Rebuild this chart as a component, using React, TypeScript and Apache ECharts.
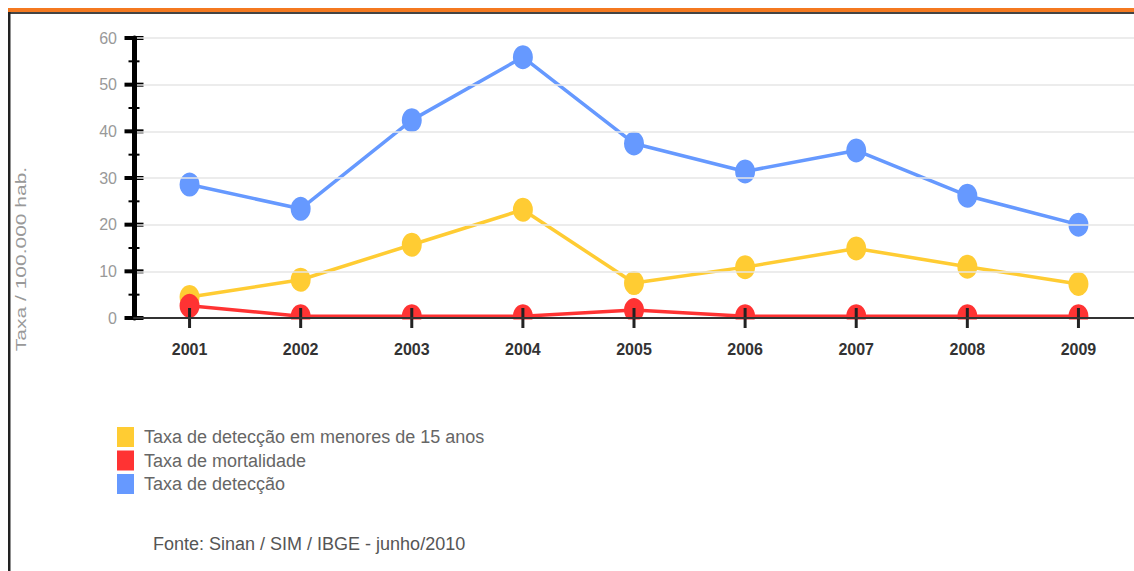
import React, { useEffect, useRef } from "react";
import * as echarts from "echarts";

const categories = ["2001", "2002", "2003", "2004", "2005", "2006", "2007", "2008", "2009"];
const deteccaoMenores15 = [4.5, 8.2, 15.7, 23.2, 7.5, 10.9, 14.9, 11.0, 7.3];
const mortalidade = [2.6, 0.4, 0.4, 0.4, 1.7, 0.4, 0.4, 0.4, 0.4];
const deteccao = [28.6, 23.4, 42.4, 55.9, 37.4, 31.4, 35.9, 26.2, 20.0];
const seriesNames = [
  "Taxa de detecção em menores de 15 anos",
  "Taxa de mortalidade",
  "Taxa de detecção",
];
const seriesColors = ["#ffcc33", "#ff3333", "#6699ff"];
const yTickValues = [0, 5, 10, 15, 20, 25, 30, 35, 40, 45, 50, 55, 60];
const yTitle = "Taxa / 100.000 hab.";
const sourceText = "Fonte: Sinan / SIM / IBGE - junho/2010";

const FONT = "'Liberation Sans', Arial, sans-serif";

export default function App() {
  const ref = useRef<HTMLDivElement>(null);
  useEffect(() => {
    if (!ref.current) return;
    const chart = echarts.init(ref.current, undefined, { renderer: "svg" });
    const valuesList = [deteccaoMenores15, mortalidade, deteccao];
    const lineSeries = seriesNames.map((name, i) => ({
      name,
      type: "line",
      data: valuesList[i],
      symbol: "circle",
      symbolSize: [20, 24],
      showSymbol: true,
      z: 2,
      itemStyle: { color: seriesColors[i] },
      lineStyle: { color: seriesColors[i], width: 3.5 },
    }));
    chart.setOption({
      animation: false,
      backgroundColor: "#ffffff",
      textStyle: { fontFamily: FONT },
      title: {
        text: sourceText,
        left: 153,
        top: 535,
        padding: 0,
        textStyle: { fontSize: 18, fontWeight: "normal", color: "#555", fontFamily: FONT },
      },
      legend: {
        orient: "vertical",
        left: 117,
        top: 427,
        padding: 0,
        icon: "rect",
        itemWidth: 17,
        itemHeight: 20,
        itemGap: 3.5,
        data: seriesNames,
        textStyle: { color: "#666", fontSize: 18, fontFamily: FONT, padding: [0, 0, 0, 5] },
      },
      grid: { left: 134, top: 38, width: 1015, height: 280 },
      xAxis: {
        type: "category",
        data: categories,
        boundaryGap: true,
        z: 10,
        axisLine: { lineStyle: { color: "#333", width: 2 } },
        axisTick: { show: false },
        axisLabel: { fontSize: 16, fontWeight: "bold", color: "#333", margin: 23, fontFamily: FONT },
        splitLine: { show: false },
      },
      yAxis: {
        type: "value",
        min: 0,
        max: 60,
        interval: 10,
        z: 10,
        axisLine: { show: true, lineStyle: { color: "#000", width: 5 } },
        axisTick: { show: false },
        minorTick: { show: false },
        axisLabel: { fontSize: 16, color: "#999", margin: 17, fontFamily: FONT },
        splitLine: { show: true, lineStyle: { color: "#e6e6e6", width: 1.5 } },
      },
      series: [
        ...lineSeries,
        {
          name: "mask",
          type: "custom",
          z: 3,
          silent: true,
          data: [[0, 0]],
          renderItem: (params: any, api: any) => {
            const cs = params.coordSys;
            return {
              type: "rect",
              shape: { x: cs.x + 6, y: cs.y + cs.height + 1.5, width: cs.width, height: 20 },
              style: { fill: "#ffffff" },
            };
          },
        },
        {
          name: "xticks",
          type: "custom",
          z: 4,
          silent: true,
          data: categories.map((_, i) => [i, 0]),
          renderItem: (params: any, api: any) => {
            const p = api.coord([api.value(0), 0]);
            return {
              type: "line",
              shape: { x1: p[0], y1: p[1] - 10, x2: p[0], y2: p[1] + 10 },
              style: { stroke: "#222", lineWidth: 3 },
            };
          },
        },
        {
          name: "yticks",
          type: "custom",
          z: 4,
          silent: true,
          data: yTickValues.map((v) => [0, v]),
          renderItem: (params: any, api: any) => {
            const cs = params.coordSys;
            const v = api.value(1);
            const p = api.coord([0, v]);
            const major = v % 10 === 0;
            const half = major ? 9.5 : 5.5;
            return {
              type: "line",
              shape: { x1: cs.x - half, y1: p[1], x2: cs.x + half, y2: p[1] },
              style: { stroke: "#000", lineWidth: major ? 4 : 2 },
            };
          },
        },
      ],
      graphic: [
        { type: "rect", z: 20, shape: { x: 8, y: 8, width: 1126, height: 4 }, style: { fill: "#f47920" } },
        { type: "rect", z: 20, shape: { x: 8, y: 12, width: 1126, height: 2 }, style: { fill: "#444" } },
        { type: "rect", z: 20, shape: { x: 8, y: 12, width: 2.5, height: 560 }, style: { fill: "#222" } },
        {
          type: "text",
          z: 20,
          x: 21,
          y: 259,
          rotation: Math.PI / 2,
          scaleX: 1.4,
          style: {
            text: yTitle,
            fontSize: 15,
            fill: "#999",
            fontFamily: FONT,
            textAlign: "center",
            textVerticalAlign: "middle",
          },
        },
      ],
    });
    return () => chart.dispose();
  }, []);
  return (
    <div
      ref={ref}
      style={{ position: "absolute", left: 0, top: 0, width: 1134, height: 571 }}
    />
  );
}
